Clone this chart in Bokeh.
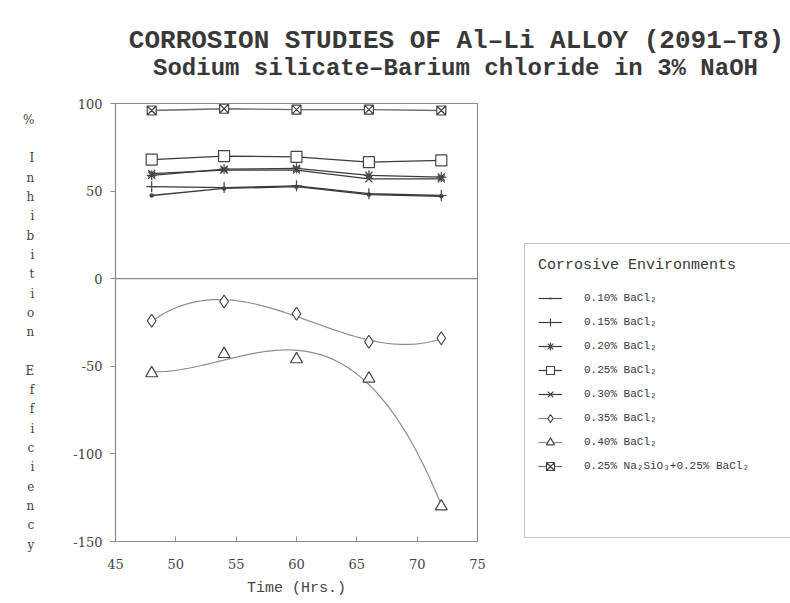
import numpy as np
from bokeh.plotting import figure
from bokeh.layouts import column, row
from bokeh.models import Range1d, Legend, LegendItem, FixedTicker, Span, Label
from bokeh.embed import file_html
from bokeh.resources import INLINE

# ---- data ----
time_hrs = [48, 54, 60, 66, 72]
bacl2_010 = [47.5, 51.5, 52.5, 48.0, 47.0]
bacl2_015 = [52.5, 52.0, 53.0, 48.5, 47.5]
bacl2_020 = [59.0, 62.5, 63.0, 59.0, 58.0]
bacl2_025 = [68.0, 70.0, 69.5, 66.5, 67.5]
bacl2_030 = [60.0, 62.0, 62.0, 57.0, 57.0]
bacl2_035 = [-24.0, -13.0, -20.0, -36.0, -34.0]
bacl2_040 = [-54.0, -43.0, -46.0, -57.0, -130.0]
na2sio3_bacl2 = [96.0, 97.0, 96.5, 96.5, 96.0]

labels = ["0.10% BaCl\u2082", "0.15% BaCl\u2082", "0.20% BaCl\u2082", "0.25% BaCl\u2082",
          "0.30% BaCl\u2082", "0.35% BaCl\u2082", "0.40% BaCl\u2082",
          "0.25% Na\u2082SiO\u2083+0.25% BaCl\u2082"]
x_ticks = [45, 50, 55, 60, 65, 70, 75]
y_ticks = [-150, -100, -50, 0, 50, 100]
y_tick_labels = ["-150", "-100", "-50", "0", "50", "100"]

SERIF = "DejaVu Serif"
MONO = "Liberation Mono"
TXT = "#383838"

W, H = 790, 603
TOP_H = 88
MAIN_W = 523

# ---------------- title strip ----------------
t = figure(width=W, height=TOP_H, x_range=Range1d(0, W), y_range=Range1d(0, TOP_H),
           x_axis_location=None, y_axis_location=None, min_border=0,
           output_backend="svg", toolbar_location=None)
t.grid.visible = False
t.outline_line_color = None
t.add_layout(Label(x=456, y=TOP_H - 40, text="CORROSION STUDIES OF Al\u2013Li ALLOY (2091\u2013T8)",
                   text_font=MONO, text_font_size="26px", text_font_style="bold",
                   text_color=TXT, text_align="center", text_baseline="middle"))
t.add_layout(Label(x=455, y=TOP_H - 68, text="Sodium silicate\u2013Barium chloride in 3% NaOH",
                   text_font=MONO, text_font_size="24px", text_font_style="bold",
                   text_color=TXT, text_align="center", text_baseline="middle"))

# ---------------- main chart ----------------
p = figure(width=MAIN_W, height=H - TOP_H, x_range=Range1d(45, 75), y_range=Range1d(-150, 100),
           output_backend="svg", toolbar_location=None,
           min_border_left=115, min_border_right=MAIN_W - 477,
           min_border_top=103 - TOP_H, min_border_bottom=H - 541)

p.xgrid.visible = False
p.ygrid.visible = False
p.outline_line_color = "#8a8a8a"
p.outline_line_width = 1.2

for ax in (p.xaxis[0], p.yaxis[0]):
    ax.axis_line_color = "#8a8a8a"
    ax.major_tick_line_color = "#8a8a8a"
    ax.minor_tick_line_color = None
    ax.major_label_text_font = SERIF
    ax.major_label_text_font_size = "13px"
    ax.major_label_text_color = "#444444"

p.xaxis.ticker = FixedTicker(ticks=x_ticks)
p.yaxis.ticker = FixedTicker(ticks=y_ticks)
p.yaxis.major_label_overrides = dict(zip(y_ticks, y_tick_labels))
p.xaxis.major_tick_in = 5
p.xaxis.major_tick_out = 0
p.xaxis.major_label_standoff = 17
p.yaxis.major_tick_in = 0
p.yaxis.major_tick_out = 5
p.yaxis.major_label_standoff = 8
p.xaxis.axis_label = "Time (Hrs.)"
p.xaxis.axis_label_text_font = MONO
p.xaxis.axis_label_text_font_size = "15px"
p.xaxis.axis_label_text_font_style = "normal"
p.xaxis.axis_label_text_color = "#444444"
p.xaxis.axis_label_standoff = 8

p.yaxis.axis_label = ("\u00a0\n%\n\u00a0\nI\nn\nh\ni\nb\ni\nt\ni\no\nn\n\u00a0\n"
                      "E\nf\nf\ni\nc\ni\ne\nn\nc\ny")
p.yaxis.axis_label_orientation = "horizontal"
p.yaxis.axis_label_text_font = SERIF
p.yaxis.axis_label_text_font_size = "12px"
p.yaxis.axis_label_text_font_style = "normal"
p.yaxis.axis_label_text_color = "#444444"
p.yaxis.axis_label_text_line_height = 1.38
p.yaxis.axis_label_standoff = 36

p.add_layout(Span(location=0, dimension="width", line_color="#8a8a8a", line_width=1.2))

dark = "#3a3a3a"
gray = "#8c8c8c"

# ---------------- legend panel ----------------
LEG_W = W - MAIN_W
lg = figure(width=LEG_W, height=H - TOP_H, x_range=Range1d(0, 1), y_range=Range1d(0, 1),
            x_axis_location=None, y_axis_location=None, min_border=0,
            output_backend="svg", toolbar_location=None)
lg.grid.visible = False
lg.outline_line_color = None

items = []

def series(vals, marker, size, label, line_color=dark, smooth=False, fill="white"):
    if smooth:
        coef = np.polyfit(time_hrs, vals, 3)
        xs = np.linspace(time_hrs[0], time_hrs[-1], 120)
        p.line(xs, np.polyval(coef, xs), line_color=line_color, line_width=1.2)
    else:
        p.line(time_hrs, vals, line_color=line_color, line_width=1.3)
    style = dict(marker=marker, line_color="#444444", fill_color=fill, line_width=1.2)
    p.scatter(time_hrs, vals, size=size, **style)
    # legend sample renderers: same data, outside this panel's ranges,
    # so only their legend samples are drawn
    lr = lg.line(time_hrs, vals, line_color=line_color, line_width=1.2)
    sr = lg.scatter(time_hrs, vals, size=size, **style)
    items.append(LegendItem(label=label, renderers=[lr, sr]))

series(bacl2_010, "dot", 18, labels[0], fill="#333333")
series(bacl2_015, "cross", 11, labels[1])
series(bacl2_020, "asterisk", 10, labels[2])
series(bacl2_025, "square", 11, labels[3])
series(bacl2_030, "x", 10, labels[4])
series(bacl2_035, "diamond", 13, labels[5], line_color=gray, smooth=True)
series(bacl2_040, "triangle", 12, labels[6], line_color=gray, smooth=True)
series(na2sio3_bacl2, "square_x", 9, labels[7], line_color="#6a6a6a")

blank = lg.scatter(time_hrs, bacl2_010, alpha=0)
items.append(LegendItem(label=" ", renderers=[blank]))
items.append(LegendItem(label=" ", renderers=[blank]))

legend = Legend(items=items, location=(1, 3), margin=0,
                title="Corrosive Environments",
                title_text_font=MONO, title_text_font_size="15px", title_text_font_style="normal",
                title_text_color=TXT, title_standoff=14,
                label_text_font=MONO, label_text_font_size="11px", label_text_color=TXT,
                glyph_width=24, glyph_height=20, label_height=20, label_width=230,
                spacing=4, padding=13, label_standoff=22,
                border_line_color="#8a8a8a", border_line_width=1.2,
                background_fill_color="white", background_fill_alpha=1.0)
lg.add_layout(legend)

layout = column(t, row(p, lg))
open("out.html", "w").write(file_html(layout, INLINE))
